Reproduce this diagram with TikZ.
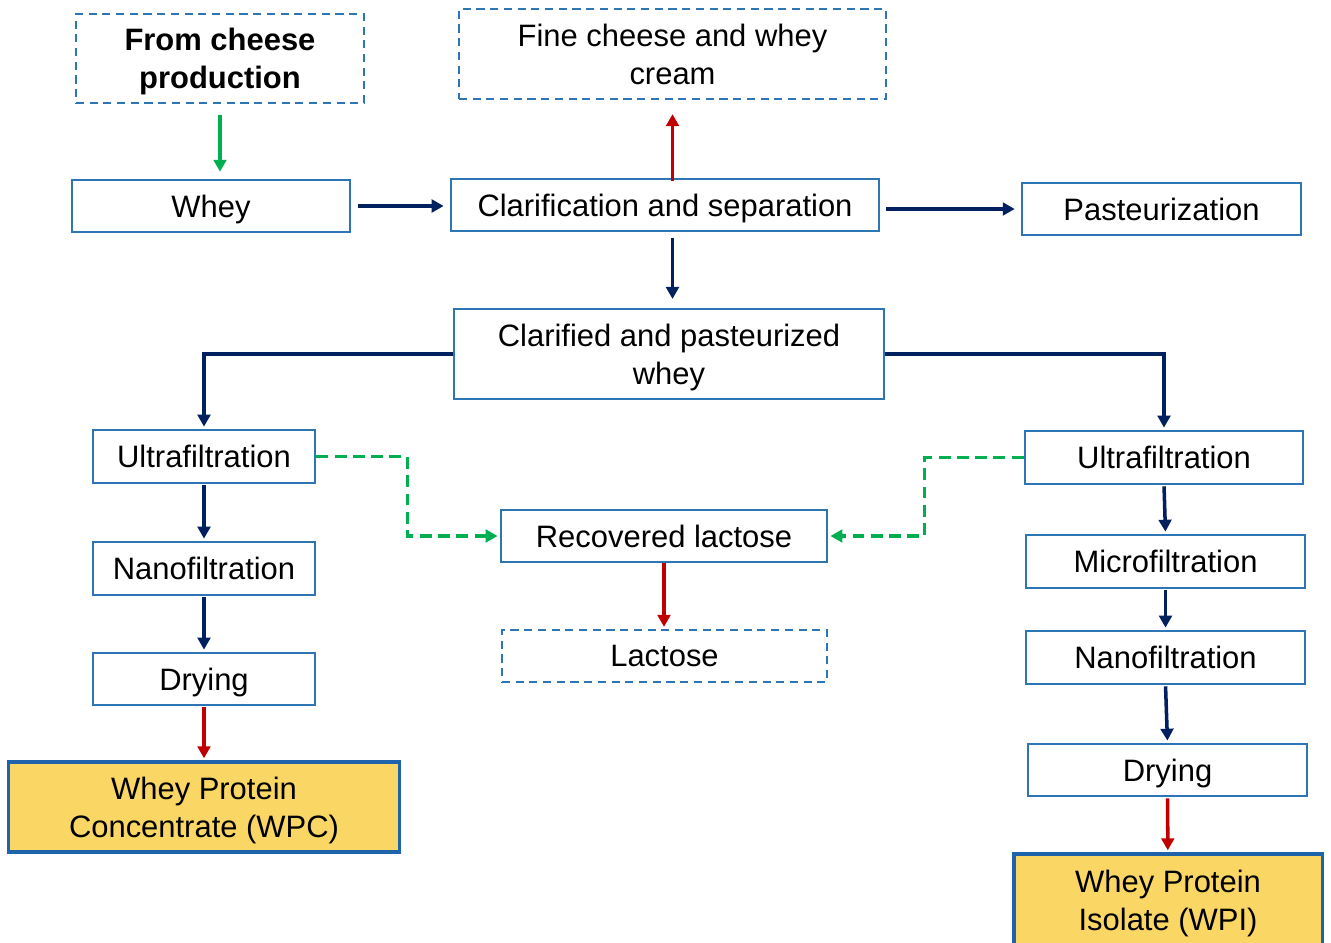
\documentclass[tikz,border=0pt]{standalone}
\usepackage{fontspec}
\setmainfont{Liberation Sans}
\usetikzlibrary{arrows.meta}
\definecolor{boxblue}{RGB}{46,117,182}
\definecolor{prodblue}{RGB}{31,100,170}
\definecolor{flownavy}{RGB}{0,32,96}
\definecolor{flowred}{RGB}{192,0,0}
\definecolor{flowgreen}{RGB}{0,176,80}
\definecolor{prodyellow}{RGB}{250,214,100}
\begin{document}
\begin{tikzpicture}[x=0.01cm,y=-0.01cm,
    stage/.style={draw=boxblue,line width=0.7pt,fill=white,align=center,inner sep=0pt,
        text depth=0pt,font=\fontsize{8.8}{10.8}\selectfont},
    sidebox/.style={stage,dash pattern=on 2.3pt off 1.6pt,line width=0.6pt},
    product/.style={stage,draw=prodblue,fill=prodyellow,line width=0.9pt},
    flow/.style={draw=flownavy,line width=1pt,-{Triangle[length=3.4pt,width=3.6pt]},
        shorten <=0.3pt,shorten >=0.6pt},
    outflow/.style={flow,draw=flowred},
    inflow/.style={flow,draw=flowgreen},
    recycle/.style={flow,draw=flowgreen,dash pattern=on 3.4pt off 1.8pt}]
    \useasboundingbox (0,0) rectangle (1331,943);
        %% top row
        \node[sidebox,minimum width=2.88cm,minimum height=0.89cm,font=\fontsize{8.8}{10.8}\selectfont\bfseries] (cheese) at (220,58.5) {From cheese\\production};
        \node[sidebox,minimum width=4.27cm,minimum height=0.90cm] (fine) at (672.5,54) {Fine cheese and whey\\cream};
        \node[stage,minimum width=2.78cm,minimum height=0.52cm] (whey) at (211,206) {Whey};
        \node[stage,minimum width=4.28cm,minimum height=0.52cm] (clar) at (665,205) {Clarification and separation};
        \node[stage,minimum width=2.79cm,minimum height=0.52cm] (past) at (1161.5,209) {Pasteurization};
        \node[stage,minimum width=4.30cm,minimum height=0.90cm] (cpw) at (669,354) {Clarified and pasteurized\\whey};
        %% WPC branch
        \node[stage,minimum width=2.22cm,minimum height=0.53cm] (ufL) at (204,456.5) {Ultrafiltration};
        \node[stage,minimum width=2.22cm,minimum height=0.53cm] (nfL) at (204,568.5) {Nanofiltration};
        \node[stage,minimum width=2.22cm,minimum height=0.52cm] (dryL) at (204,679) {Drying};
        \node[product,minimum width=3.90cm,minimum height=0.90cm] (wpc) at (204,807) {Whey Protein\\Concentrate (WPC)};
        %% lactose
        \node[stage,minimum width=3.26cm,minimum height=0.52cm] (rec) at (664,536) {Recovered lactose};
        \node[sidebox,minimum width=3.25cm,minimum height=0.52cm] (lac) at (664.5,656) {Lactose};
        %% WPI branch
        \node[stage,minimum width=2.78cm,minimum height=0.53cm] (ufR) at (1164,457.5) {Ultrafiltration};
        \node[stage,minimum width=2.79cm,minimum height=0.53cm] (mf) at (1165.5,561.5) {Microfiltration};
        \node[stage,minimum width=2.79cm,minimum height=0.53cm] (nfR) at (1165.5,657.5) {Nanofiltration};
        \node[stage,minimum width=2.79cm,minimum height=0.52cm] (dryR) at (1167.5,770) {Drying};
        \node[product,minimum width=3.08cm,minimum height=0.92cm] (wpi) at (1168,900) {Whey Protein\\Isolate (WPI)};
        %% arrows
        \draw[inflow,shorten <=3pt,shorten >=2pt] (cheese) -- (cheese |- whey.north);
        \draw[flow,shorten <=2pt,shorten >=1.7pt] (whey.east) -- (whey.east -| clar.west);
        \draw[outflow,shorten >=4pt,shorten <=-1pt] (clar.north -| fine) -- (fine.south);
        \draw[flow,shorten <=1.7pt,shorten >=1.7pt] (clar.east |- past.west) -- (past.west);
        \draw[flow,shorten <=1.7pt,shorten >=2.5pt] (clar.south -| fine) -- (fine |- cpw.north);
        \draw[flow,shorten <=0pt] (cpw.west) -| (ufL.north);
        \draw[flow,shorten <=0pt] (cpw.east) -| (ufR.north);
        \draw[flow] (ufL) -- (nfL);
        \draw[flow] (nfL) -- (dryL);
        \draw[outflow] (dryL) -- (wpc);
        \draw[flow] (ufR.south) -- (mf.north);
        \draw[flow] (mf.south) -- (nfR.north);
        \draw[flow] (nfR.south) -- (dryR.north);
        \draw[outflow] (dryR) -- (wpi);
        \draw[outflow,shorten <=0pt] (rec.south) -- (rec.south |- lac.north);
        %% lactose recovery
        \draw[recycle,shorten <=0pt] (ufL.east) -- ++(91,0) |- (rec.west);
        \draw[recycle,shorten <=0pt] (ufR.west) -- ++(-99,0) |- (rec.east);
\end{tikzpicture}
\end{document}
